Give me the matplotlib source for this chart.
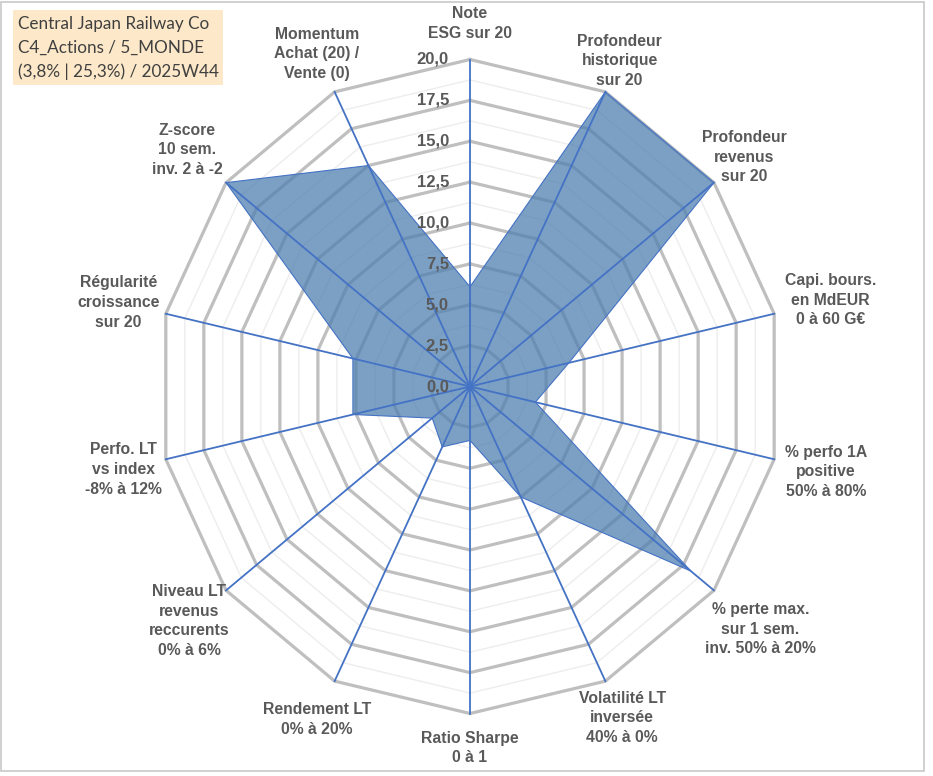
import numpy as np
import matplotlib
matplotlib.use("Agg")
import matplotlib.pyplot as plt
from matplotlib.patches import Rectangle

# axes of the radar, clockwise from the top
labels = [
    "Note\nESG sur 20",
    "Profondeur\nhistorique\nsur 20",
    "Profondeur\nrevenus\nsur 20",
    "Capi. bours.\nen MdEUR\n0 à 60 G€",
    "% perfo 1A\npositive\n50% à 80%",
    "% perte max.\nsur 1 sem.\ninv. 50% à 20%",
    "Volatilité LT\ninversée\n40% à 0%",
    "Ratio Sharpe\n0 à 1",
    "Rendement LT\n0% à 20%",
    "Niveau LT\nrevenus\nreccurents\n0% à 6%",
    "Perfo. LT\nvs index\n-8% à 12%",
    "Régularité\ncroissance\nsur 20",
    "Z-score\n10 sem.\ninv. 2 à -2",
    "Momentum\nAchat (20) /\nVente (0)",
]
scores = [6.1, 20, 20, 6.5, 4.3, 18.1, 7.5, 3.3, 4.1, 3.1, 7.7, 7.7, 20, 15.0]
ticks = [0, 2.5, 5, 7.5, 10, 12.5, 15, 17.5, 20]
title_lines = ["Central Japan Railway Co", "C4_Actions / 5_MONDE", "(3,8% | 25,3%) / 2025W44"]

# distance of each label from the centre (in score units)
label_r = [22.2, 22.1, 22.5, 23.7, 23.4, 23.8, 22.5, 22.1, 22.6, 23.0, 22.8, 23.1, 23.2, 22.6]

n = len(labels)
ang = np.arange(n) * 2 * np.pi / n
ux = np.sin(ang)
uy = np.cos(ang)

W, H = 933, 776
fig = plt.figure(figsize=(W / 100, H / 100), dpi=100)
ax = fig.add_axes([0, 0, 1, 1])
cx, cy = 470, 776 - 386.5
sx, sy = 312 / 20, 327 / 20
ax.set_xlim(-cx / sx, (W - cx) / sx)
ax.set_ylim(-cy / sy, (H - cy) / sy)
ax.axis("off")

grey_txt = "#595959"
blue = "#4472C4"

# grid polygons
for lev in np.arange(1.25, 20, 2.5):
    xs = np.append(ux * lev, ux[0] * lev)
    ys = np.append(uy * lev, uy[0] * lev)
    ax.plot(xs, ys, color="#EDEDED", lw=1, zorder=1)
for lev in ticks[1:]:
    xs = np.append(ux * lev, ux[0] * lev)
    ys = np.append(uy * lev, uy[0] * lev)
    ax.plot(xs, ys, color="#BFBFBF", lw=2.3, zorder=2, solid_joinstyle="miter")

# data
v = np.array(scores)
px = np.append(ux * v, ux[0] * v[0])
py = np.append(uy * v, uy[0] * v[0])
ax.fill(px, py, color="#5080B1", alpha=0.75, lw=0, zorder=3)
ax.plot(px, py, color=blue, lw=0.8, zorder=5)

# spokes
for i in range(n):
    ax.plot([0, ux[i] * 20], [0, uy[i] * 20], color=blue, lw=1.3, zorder=4)

# radial tick labels
for t in ticks:
    ax.text(-1.35, t, ("%.1f" % t).replace(".", ","), ha="right", va="center",
            fontsize=12, fontweight="bold", color=grey_txt, zorder=6,
            family="Liberation Sans")

# axis labels
for i in range(n):
    ax.text(ux[i] * label_r[i], uy[i] * label_r[i], labels[i], ha="center", va="center",
            fontsize=11.3, fontweight="bold", color=grey_txt, linespacing=1.38,
            family="Liberation Sans", zorder=6)

# title box
fig.patches.append(Rectangle((13 / W, 1 - 85 / H), 210 / W, 75 / H, transform=fig.transFigure,
                             facecolor="#FDE9C9", edgecolor="none", zorder=0))
for k, line in enumerate(title_lines):
    fig.text(18 / W, 1 - (24 + k * 24) / H, line, ha="left", va="center",
             fontsize=12.3, color="#404040", family="Lato")

# outer frame
fig.patches.append(Rectangle((1 / W, 5 / H), 923 / W, 769 / H, transform=fig.transFigure,
                             facecolor="none", edgecolor="#C8C8C8", lw=1.2))

fig.savefig("out.png", dpi=100)
